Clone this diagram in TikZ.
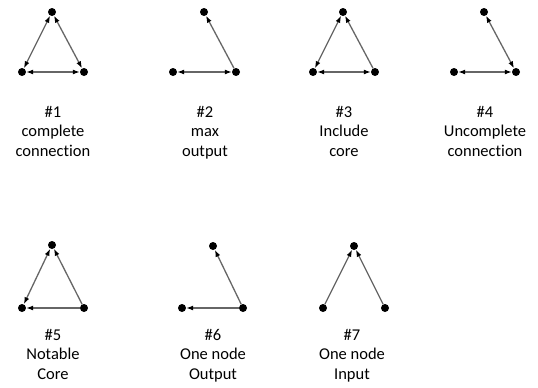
\documentclass[tikz,border=0pt]{standalone}
\usepackage{fontspec}
\setmainfont[Ligatures=NoCommon]{Carlito}
\usetikzlibrary{arrows.meta}

\tikzset{
  dot/.style={circle,fill=black,inner sep=0pt,minimum size=8pt},
  oneway/.style={draw=black!60,line width=1.3pt,
                 -{Latex[length=7pt,width=5pt,color=black]}},
  twoway/.style={draw=black!60,line width=1.3pt,
                 {Latex[length=7pt,width=5pt,color=black]}-{Latex[length=7pt,width=5pt,color=black]}},
  caption/.style={align=center,font=\fontsize{16.5}{19.5}\selectfont,
                  anchor=base,inner sep=0pt}
}

\begin{document}
\begin{tikzpicture}[x=1pt,y=-1pt]
  \useasboundingbox (0,0) rectangle (538,388);

  % the seven triangles: top, left, right
  \foreach \g/\tx/\ty/\lx/\rx/\by in {1/52/12/22/84/72, 2/204/12/173/236/72,
      3/343/12/313/375/72, 4/484/12/454/516/72, 5/52/245/22/84/308,
      6/213/246/182/243/308, 7/354/246/323/385/308} {
    \node[dot] (t\g) at (\tx,\ty) {};
    \node[dot] (l\g) at (\lx,\by) {};
    \node[dot] (r\g) at (\rx,\by) {};
  }

  % #1
  \draw[twoway] (t1) -- (l1);
  \draw[twoway] (t1) -- (r1);
  \draw[twoway] (l1) -- (r1);
  % #2
  \draw[oneway] (r2) -- (t2);
  \draw[twoway] (l2) -- (r2);
  % #3
  \draw[twoway] (t3) -- (l3);
  \draw[oneway] (r3) -- (t3);
  \draw[twoway] (l3) -- (r3);
  % #4
  \draw[twoway] (t4) -- (r4);
  \draw[twoway] (l4) -- (r4);
  % #5
  \draw[twoway] (t5) -- (l5);
  \draw[oneway] (r5) -- (t5);
  \draw[oneway] (r5) -- (l5);
  % #6
  \draw[oneway] (r6) -- (t6);
  \draw[oneway] (r6) -- (l6);
  % #7
  \draw[oneway] (l7) -- (t7);
  \draw[oneway] (r7) -- (t7);

  % captions
  \node[caption] (c1) at (53,156) {\#1\\complete\\connection};
  \node[caption] (c2) at (205,156) {\#2\\max\\output};
  \node[caption] (c3) at (344,156) {\#3\\Include\\core};
  \node[caption] (c4) at (485,156) {\#4\\Uncomplete\\connection};
  \node[caption] (c5) at (53,379) {\#5\\Notable\\Core};
  \node[caption] (c6) at (213,379) {\#6\\One node\\Output};
  \node[caption] (c7) at (352,379) {\#7\\One node\\Input};
\end{tikzpicture}
\end{document}
